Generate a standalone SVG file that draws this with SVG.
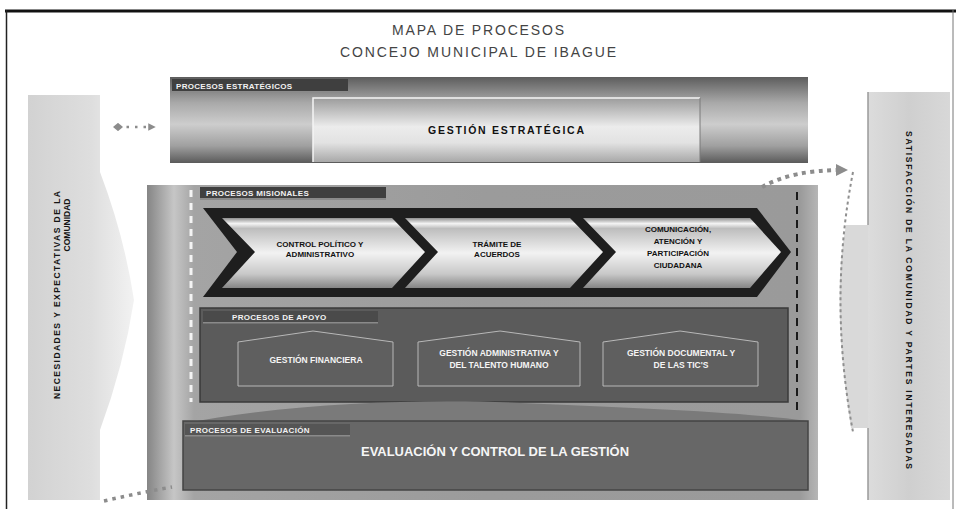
<svg xmlns="http://www.w3.org/2000/svg" width="956" height="509" viewBox="0 0 956 509">
<defs>
<style>
.tab{fill:#3f3f3f}
.tabline{fill:#8a8a8a}
.tabtxt{font-family:"Liberation Sans",Arial,sans-serif;font-weight:bold;font-size:8px;fill:#f2f2f2;letter-spacing:0.3px}
.chev{fill:url(#chevGrad)}
.chevtxt{font-family:"Liberation Sans",Arial,sans-serif;font-weight:bold;font-size:8px;fill:#111;text-anchor:middle}
.house{fill:#5f5f5f;stroke:#b8b8b8;stroke-width:1}
.housetxt{font-family:"Liberation Sans",Arial,sans-serif;font-weight:bold;font-size:8.5px;fill:#f4f4f4;text-anchor:middle}
.sidetxt{font-family:"Liberation Sans",Arial,sans-serif;font-weight:bold;font-size:8.5px;fill:#151515;text-anchor:middle}
.title{font-family:"Liberation Sans Narrow","Liberation Sans",Arial,sans-serif;font-size:14px;fill:#444;text-anchor:middle}
.dots{fill:none;stroke:#8c8c8c;stroke-linecap:butt}
</style>
<linearGradient id="stratGrad" x1="0" y1="0" x2="0" y2="1">
<stop offset="0" stop-color="#5d5d5d"/>
<stop offset="0.3" stop-color="#a9a9a9"/>
<stop offset="0.55" stop-color="#cdcdcd"/>
<stop offset="0.8" stop-color="#a0a0a0"/>
<stop offset="1" stop-color="#5a5a5a"/>
</linearGradient>
<linearGradient id="stratInner" x1="0" y1="0" x2="0" y2="1">
<stop offset="0" stop-color="#9c9c9c"/>
<stop offset="0.45" stop-color="#ececec"/>
<stop offset="0.7" stop-color="#e2e2e2"/>
<stop offset="1" stop-color="#a8a8a8"/>
</linearGradient>
<linearGradient id="contGrad" x1="147" y1="0" x2="820" y2="0" gradientUnits="userSpaceOnUse">
<stop offset="0" stop-color="#858585"/>
<stop offset="0.04" stop-color="#c6c6c6"/>
<stop offset="0.07" stop-color="#a4a4a4"/>
<stop offset="0.5" stop-color="#9b9b9b"/>
<stop offset="0.97" stop-color="#9a9a9a"/>
<stop offset="1" stop-color="#b9b9b9"/>
</linearGradient>
<linearGradient id="chevGrad" x1="0" y1="0" x2="0" y2="1">
<stop offset="0" stop-color="#8f8f8f"/>
<stop offset="0.08" stop-color="#f4f4f4"/>
<stop offset="0.15" stop-color="#bdbdbd"/>
<stop offset="0.5" stop-color="#f2f2f2"/>
<stop offset="0.8" stop-color="#c8c8c8"/>
<stop offset="1" stop-color="#858585"/>
</linearGradient>
<linearGradient id="leftGrad" x1="0" y1="0" x2="1" y2="0">
<stop offset="0" stop-color="#d2d2d2"/>
<stop offset="0.6" stop-color="#dedede"/>
<stop offset="1" stop-color="#f2f2f2"/>
</linearGradient>
<linearGradient id="rightGrad" x1="0" y1="0" x2="1" y2="0">
<stop offset="0" stop-color="#dcdcdc"/>
<stop offset="0.5" stop-color="#cfcfcf"/>
<stop offset="1" stop-color="#d8d8d8"/>
</linearGradient>
<marker id="triEnd" viewBox="0 0 10 10" refX="5" refY="5" markerWidth="3" markerHeight="3" orient="auto" markerUnits="strokeWidth">
<path d="M0,0 L10,5 L0,10 Z" fill="#8c8c8c"/>
</marker>
<marker id="diaStart" viewBox="0 0 12 10" refX="6" refY="5" markerWidth="4" markerHeight="3.4" orient="auto" markerUnits="strokeWidth">
<path d="M0,5 L6,0 L12,5 L6,10 Z" fill="#8c8c8c"/>
</marker>
</defs>

<g id="frame">
<rect x="0" y="0" width="956" height="509" fill="#ffffff"/>
<line x1="5" y1="11" x2="956" y2="11" stroke="#111" stroke-width="3"/>
<line x1="6.5" y1="10" x2="6.5" y2="509" stroke="#222" stroke-width="1.5"/>
<line x1="953" y1="10" x2="953" y2="509" stroke="#777" stroke-width="1"/>
</g>

<g id="title">
<text class="title" x="478" y="35" textLength="172" lengthAdjust="spacing">MAPA DE PROCESOS</text>
<text class="title" x="478" y="57" textLength="276" lengthAdjust="spacing">CONCEJO MUNICIPAL DE IBAGUE</text>
</g>

<g id="necesidades">
<path d="M28,95 H100 V172 Q124,235 134,300 Q124,365 100,430 V500 H28 Z" fill="url(#leftGrad)"/>
<text class="sidetxt" transform="translate(60,295) rotate(-90)" textLength="208" lengthAdjust="spacing">NECESIDADES Y EXPECTATIVAS DE LA</text>
<text class="sidetxt" transform="translate(70,225) rotate(-90)">COMUNIDAD</text>
</g>

<g id="satisfaccion">
<rect x="868" y="92" width="82" height="408" fill="url(#rightGrad)"/>
<path d="M868,225 L846,225 Q831,300 851,428 L868,428 Z" fill="#d9d9d9"/>
<line x1="868" y1="92" x2="868" y2="225" stroke="#9a9a9a" stroke-width="1.5"/>
<line x1="868" y1="428" x2="868" y2="500" stroke="#9a9a9a" stroke-width="1.5"/>
<text class="sidetxt" transform="translate(906,300) rotate(90)" textLength="338" lengthAdjust="spacing">SATISFACCIÓN DE LA COMUNIDAD Y PARTES INTERESADAS</text>
</g>

<g id="estrategicos">
<rect x="170" y="77" width="638" height="86" fill="url(#stratGrad)"/>
<rect x="172" y="79" width="176" height="14" class="tab"/>
<rect x="172" y="91" width="176" height="2" class="tabline"/>
<text class="tabtxt" x="176" y="89">PROCESOS ESTRATÉGICOS</text>
</g>
<g id="gestion-estrategica">
<rect x="313" y="98" width="387" height="64" fill="url(#stratInner)"/>
<path d="M313,162 V98 H700" fill="none" stroke="#f5f5f5" stroke-width="1.5"/>
<line x1="700" y1="98" x2="700" y2="162" stroke="#7a7a7a" stroke-width="1"/>
<text x="506" y="134" font-family="Liberation Sans, Arial, sans-serif" font-weight="bold" font-size="10.5" fill="#111" text-anchor="middle" textLength="156" lengthAdjust="spacing">GESTIÓN ESTRATÉGICA</text>
</g>

<g id="contenedor">
<rect x="147" y="185" width="671" height="315" fill="url(#contGrad)"/>
<line x1="191" y1="190" x2="191" y2="402" stroke="#f4f4f4" stroke-width="3" stroke-dasharray="7 6"/>
<line x1="797" y1="192" x2="797" y2="412" stroke="#1a1a1a" stroke-width="2" stroke-dasharray="8 6"/>
</g>

<g id="misionales">
<rect x="200" y="187" width="186" height="13" class="tab"/>
<rect x="200" y="198" width="186" height="2" class="tabline"/>
<text class="tabtxt" x="206" y="196">PROCESOS MISIONALES</text>
<polygon points="203,208 757,208 791,252 757,297 203,297 237,252" fill="#1e1e1e"/>
</g>
<g id="control-politico">
<polygon class="chev" points="222,218 392,218 425,252 392,288 222,288 255,252"/>
<text class="chevtxt" x="320" y="247">CONTROL POLÍTICO Y</text>
<text class="chevtxt" x="320" y="257">ADMINISTRATIVO</text>
</g>
<g id="tramite-acuerdos">
<polygon class="chev" points="405,218 570,218 603,252 570,288 405,288 438,252"/>
<text class="chevtxt" x="497" y="247">TRÁMITE DE</text>
<text class="chevtxt" x="497" y="257">ACUERDOS</text>
</g>
<g id="comunicacion">
<polygon class="chev" points="583,218 750,218 781,252 750,288 583,288 616,252"/>
<text class="chevtxt" x="678" y="232">COMUNICACIÓN,</text>
<text class="chevtxt" x="678" y="244">ATENCIÓN Y</text>
<text class="chevtxt" x="678" y="256">PARTICIPACIÓN</text>
<text class="chevtxt" x="678" y="268">CIUDADANA</text>
</g>

<g id="apoyo">
<rect x="200" y="308" width="588" height="94" fill="#5b5b5b" stroke="#3a3a3a" stroke-width="1.5"/>
<rect x="203" y="311" width="175" height="12" fill="#4a4a4a"/>
<rect x="203" y="322" width="175" height="1.5" class="tabline"/>
<text class="tabtxt" x="232" y="320">PROCESOS DE APOYO</text>
</g>
<g id="gestion-financiera">
<path class="house" d="M238,386 V342 L313,331 L393,342 V386 Z"/>
<text class="housetxt" x="316" y="363">GESTIÓN FINANCIERA</text>
</g>
<g id="gestion-administrativa">
<path class="house" d="M418,386 V342 L500,331 L580,342 V386 Z"/>
<text class="housetxt" x="499" y="356">GESTIÓN ADMINISTRATIVA Y</text>
<text class="housetxt" x="499" y="368">DEL TALENTO HUMANO</text>
</g>
<g id="gestion-documental">
<path class="house" d="M603,386 V342 L680,331 L758,342 V386 Z"/>
<text class="housetxt" x="681" y="356">GESTIÓN DOCUMENTAL Y</text>
<text class="housetxt" x="681" y="368">DE LAS TIC'S</text>
</g>

<g id="evaluacion">
<path d="M183,424 C280,404 420,398 520,403 C640,408 740,412 808,421 V430 H183 Z" fill="#7a7a7a"/>
<rect x="183" y="421" width="625" height="69" fill="#676767" stroke="#444" stroke-width="1.5"/>
<rect x="185" y="424" width="165" height="12" fill="#555"/>
<rect x="185" y="435" width="165" height="1.5" class="tabline"/>
<text class="tabtxt" x="190" y="433">PROCESOS DE EVALUACIÓN</text>
<text x="495" y="456" font-family="Liberation Sans, Arial, sans-serif" font-weight="bold" font-size="12.5" fill="#f6f6f6" text-anchor="middle" textLength="268" lengthAdjust="spacingAndGlyphs">EVALUACIÓN Y CONTROL DE LA GESTIÓN</text>
</g>

<g id="connectors">
<line class="dots" x1="118" y1="127" x2="152" y2="127" stroke-width="2.5" stroke-dasharray="2.5 6" marker-start="url(#diaStart)" marker-end="url(#triEnd)"/>
<path class="dots" d="M762,187 Q792,170 842,170" stroke-width="4" stroke-dasharray="4 4.5" marker-end="url(#triEnd)"/>
<path d="M853,172 Q828,300 853,432" fill="none" stroke="#8f8f8f" stroke-width="2" stroke-dasharray="3 3"/>
<path class="dots" d="M104,501 Q138,493 172,487" stroke="#9a9a9a" stroke-width="3.5" stroke-dasharray="3.5 5"/>
</g>
</svg>
